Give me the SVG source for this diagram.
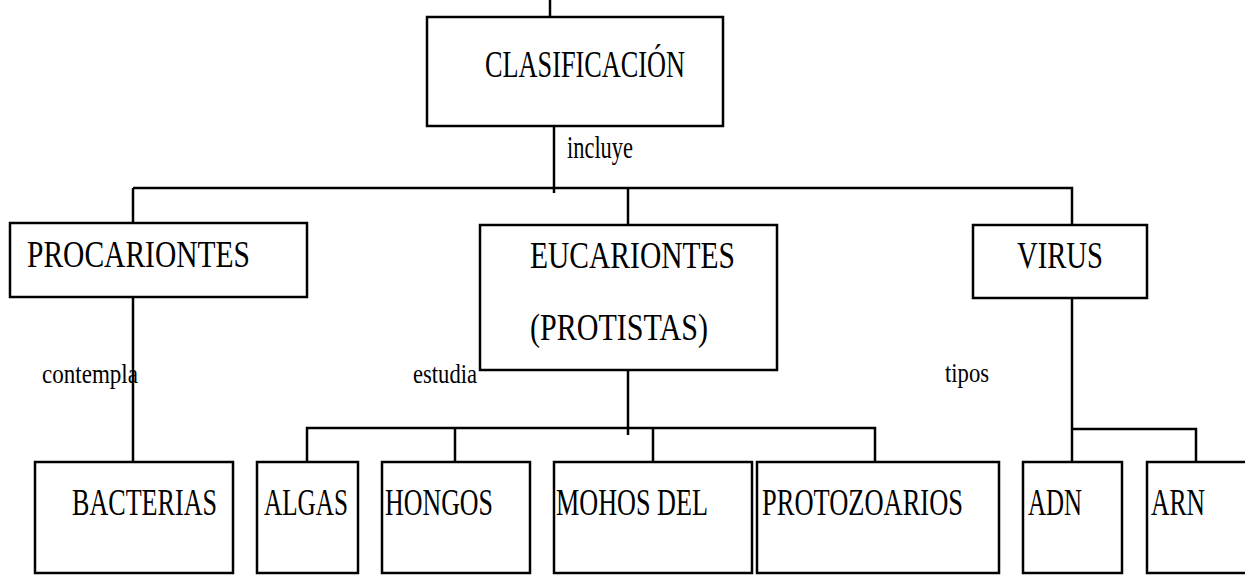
<svg xmlns="http://www.w3.org/2000/svg" width="1245" height="577" viewBox="0 0 1245 577">
<style>
.box{fill:#fff;stroke:#000;stroke-width:2.5}
.ln{fill:none;stroke:#000;stroke-width:2.5}
.big{font-family:"Liberation Serif","Times New Roman",serif;font-size:38px;fill:#000}
.sm{font-family:"Liberation Serif","Times New Roman",serif;font-size:27px;fill:#000}
.lg{font-size:32px}
</style>
<rect width="1245" height="577" fill="#fff"/>
<g id="connectors">
<path class="ln" d="M550 0V17"/>
<path class="ln" d="M554 119V193"/>
<path class="ln" d="M133 188H1072V225"/>
<path class="ln" d="M133 188V223"/>
<path class="ln" d="M628 188V225"/>
<path class="ln" d="M133 292V473"/>
<path class="ln" d="M628 362V435"/>
<path class="ln" d="M307 466V428H875V466"/>
<path class="ln" d="M455 428V466"/>
<path class="ln" d="M653 428V466"/>
<path class="ln" d="M1072 292V473"/>
<path class="ln" d="M1072 429H1196V466"/>
</g>
<g id="labels">
<text class="sm lg" x="567" y="158" textLength="66" lengthAdjust="spacingAndGlyphs">incluye</text>
<text class="sm" x="42" y="383" textLength="96" lengthAdjust="spacingAndGlyphs">contempla</text>
<text class="sm" x="413" y="383" textLength="64" lengthAdjust="spacingAndGlyphs">estudia</text>
<text class="sm" x="945" y="382" textLength="44" lengthAdjust="spacingAndGlyphs">tipos</text>
</g>
<g id="clasificacion">
<rect class="box" x="427" y="17" width="296" height="109"/>
<text class="big" x="485" y="77" textLength="200" lengthAdjust="spacingAndGlyphs">CLASIFICACIÓN</text>
</g>
<g id="procariontes">
<rect class="box" x="10" y="223" width="297" height="74"/>
<text class="big" x="27" y="267" textLength="223" lengthAdjust="spacingAndGlyphs">PROCARIONTES</text>
</g>
<g id="eucariontes">
<rect class="box" x="480" y="225" width="297" height="145"/>
<text class="big" x="530" y="268" textLength="205" lengthAdjust="spacingAndGlyphs">EUCARIONTES</text>
<text class="big" x="530" y="340" textLength="178" lengthAdjust="spacingAndGlyphs">(PROTISTAS)</text>
</g>
<g id="virus">
<rect class="box" x="973" y="225" width="174" height="73"/>
<text class="big" x="1017" y="268" textLength="86" lengthAdjust="spacingAndGlyphs">VIRUS</text>
</g>
<g id="bacterias">
<rect class="box" x="35" y="462" width="198" height="111"/>
<text class="big" x="72" y="515" textLength="145" lengthAdjust="spacingAndGlyphs">BACTERIAS</text>
</g>
<g id="algas">
<rect class="box" x="257" y="462" width="101" height="111"/>
<text class="big" x="264" y="515" textLength="84" lengthAdjust="spacingAndGlyphs">ALGAS</text>
</g>
<g id="hongos">
<rect class="box" x="382" y="462" width="148" height="111"/>
<text class="big" x="385" y="515" textLength="108" lengthAdjust="spacingAndGlyphs">HONGOS</text>
</g>
<g id="mohos">
<rect class="box" x="554" y="462" width="198" height="111"/>
<text class="big" x="556" y="515" textLength="152" lengthAdjust="spacingAndGlyphs">MOHOS DEL</text>
</g>
<g id="protozoarios">
<rect class="box" x="757" y="462" width="242" height="111"/>
<text class="big" x="762" y="515" textLength="201" lengthAdjust="spacingAndGlyphs">PROTOZOARIOS</text>
</g>
<g id="adn">
<rect class="box" x="1023" y="462" width="99" height="111"/>
<text class="big" x="1028" y="515" textLength="54" lengthAdjust="spacingAndGlyphs">ADN</text>
</g>
<g id="arn">
<rect class="box" x="1147" y="462" width="110" height="111"/>
<text class="big" x="1151" y="515" textLength="54" lengthAdjust="spacingAndGlyphs">ARN</text>
</g>
</svg>
